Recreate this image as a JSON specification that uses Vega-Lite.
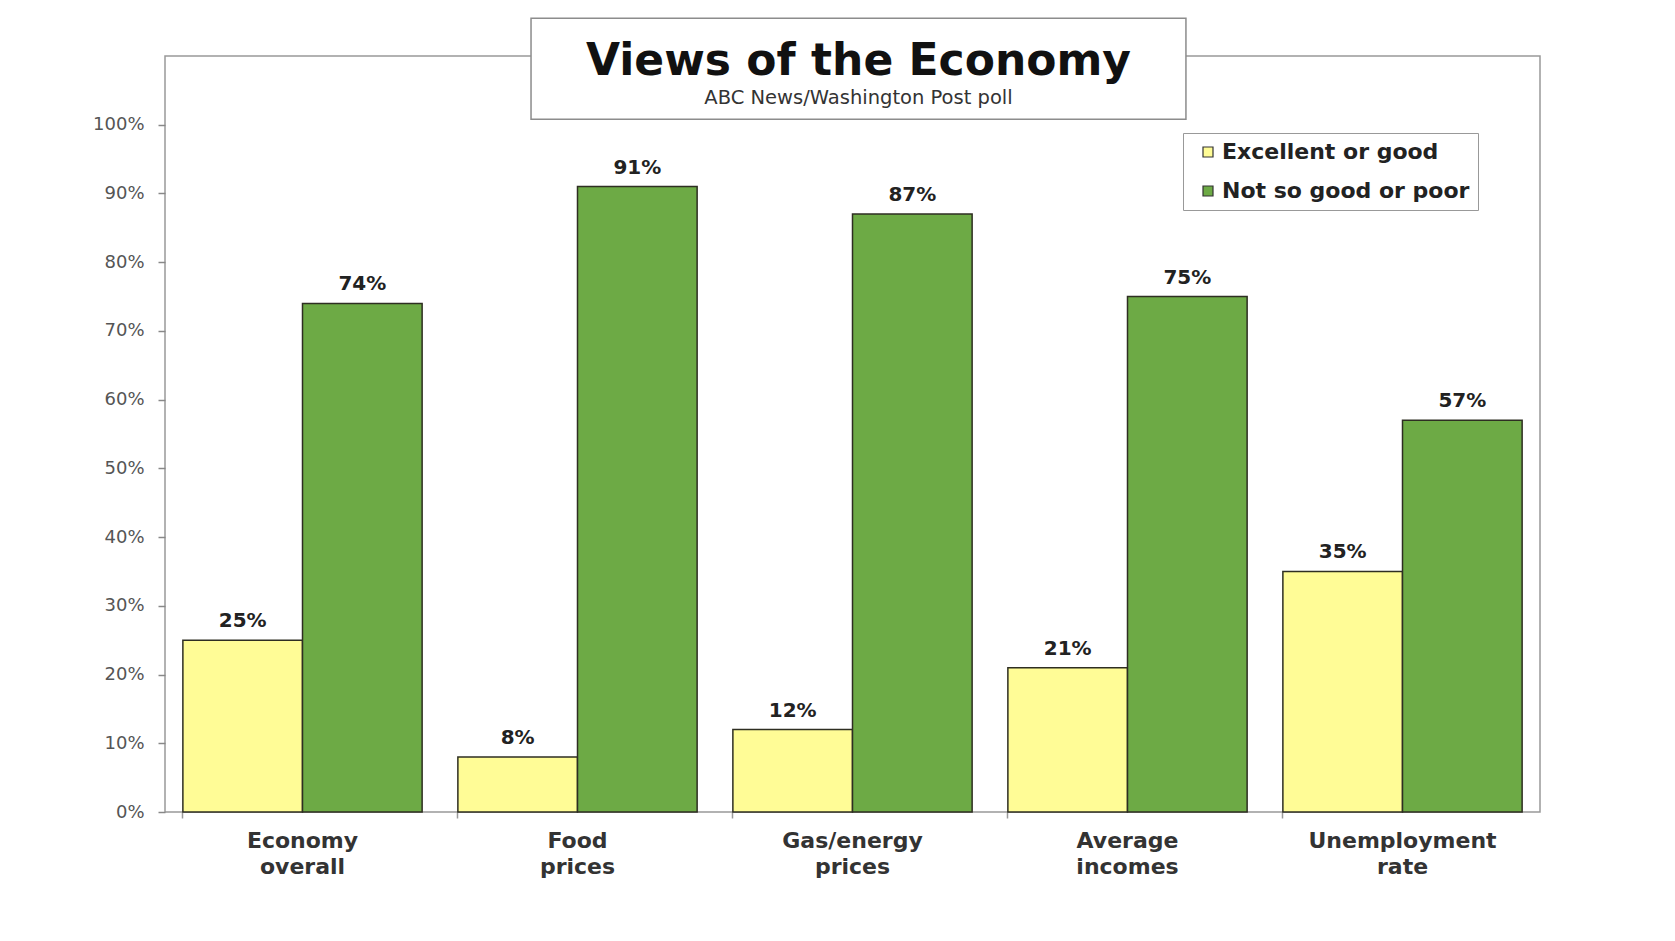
{
  "$schema": "https://vega.github.io/schema/vega-lite/v6.json",
  "width": 1375,
  "height": 756,
  "autosize": {"type": "none"},
  "padding": {"left": 165, "top": 56, "right": 135, "bottom": 129},
  "background": "white",
  "title": {
    "text": "Views of the Economy",
    "subtitle": "ABC News/Washington Post poll",
    "font": "DejaVu Sans",
    "fontSize": 44,
    "fontWeight": "bold",
    "color": "#111111",
    "subtitleFont": "DejaVu Sans",
    "subtitleFontSize": 19.5,
    "subtitleColor": "#333333",
    "subtitlePadding": 5,
    "anchor": "middle",
    "frame": "group",
    "offset": -90.5,
    "dx": 6
  },
  "config": {
    "view": {"stroke": "#999999", "strokeWidth": 1.5},
    "font": "DejaVu Sans"
  },
  "data": {
    "values": [
      {"category": "Economy overall", "series": "Excellent or good", "value": 0.25},
      {"category": "Economy overall", "series": "Not so good or poor", "value": 0.74},
      {"category": "Food prices", "series": "Excellent or good", "value": 0.08},
      {"category": "Food prices", "series": "Not so good or poor", "value": 0.91},
      {"category": "Gas/energy prices", "series": "Excellent or good", "value": 0.12},
      {"category": "Gas/energy prices", "series": "Not so good or poor", "value": 0.87},
      {"category": "Average incomes", "series": "Excellent or good", "value": 0.21},
      {"category": "Average incomes", "series": "Not so good or poor", "value": 0.75},
      {"category": "Unemployment rate", "series": "Excellent or good", "value": 0.35},
      {"category": "Unemployment rate", "series": "Not so good or poor", "value": 0.57}
    ]
  },
  "layer": [
    {
      "mark": {"type": "bar", "stroke": "#2e2e22", "strokeWidth": 1.5},
      "encoding": {
        "x": {
          "field": "category",
          "type": "nominal",
          "sort": ["Economy overall", "Food prices", "Gas/energy prices", "Average incomes", "Unemployment rate"],
          "scale": {"paddingInner": 0.13, "paddingOuter": 0.065},
          "axis": {
            "title": null,
            "labelExpr": "split(datum.label, ' ')",
            "labelFont": "DejaVu Sans",
            "labelFontSize": 22,
            "labelFontWeight": "bold",
            "labelColor": "#333333",
            "labelLineHeight": 26,
            "labelPadding": 12,
            "labelAngle": 0,
            "labelLimit": 400,
            "tickSize": 6,
            "tickColor": "#999999",
            "tickWidth": 1.5,
            "bandPosition": 0,
            "domain": false,
            "grid": false
          }
        },
        "xOffset": {
          "field": "series",
          "type": "nominal",
          "sort": ["Excellent or good", "Not so good or poor"],
          "scale": {"paddingInner": 0, "paddingOuter": 0}
        },
        "y": {
          "field": "value",
          "type": "quantitative",
          "scale": {"domain": [0, 1.1], "nice": false},
          "axis": {
            "title": null,
            "values": [0, 0.1, 0.2, 0.3, 0.4, 0.5, 0.6, 0.7, 0.8, 0.9, 1.0],
            "format": ".0%",
            "grid": false,
            "domain": false,
            "tickSize": 7,
            "tickColor": "#888888",
            "tickWidth": 1.5,
            "labelFont": "DejaVu Sans",
            "labelFontSize": 18,
            "labelColor": "#555555",
            "labelPadding": 14
          }
        },
        "color": {
          "field": "series",
          "type": "nominal",
          "scale": {"domain": ["Excellent or good", "Not so good or poor"], "range": ["#FFFC96", "#6DAA45"]},
          "legend": {
            "title": null,
            "orient": "none",
            "legendX": 1018,
            "legendY": 77,
            "direction": "vertical",
            "symbolType": "square",
            "symbolSize": 100,
            "symbolStrokeColor": "#333333",
            "symbolStrokeWidth": 1.2,
            "labelFont": "DejaVu Sans",
            "labelFontSize": 22,
            "labelFontWeight": "bold",
            "labelColor": "#222222",
            "labelOffset": 3,
            "labelLimit": 400,
            "rowPadding": 17,
            "padding": 8,
            "symbolOffset": 6,
            "strokeColor": "#999999",
            "fillColor": "white"
          }
        }
      }
    },
    {
      "mark": {"type": "text", "font": "DejaVu Sans", "fontSize": 20, "fontWeight": "bold", "baseline": "alphabetic", "dy": -13, "color": "#222222"},
      "encoding": {
        "x": {
          "field": "category",
          "type": "nominal",
          "sort": ["Economy overall", "Food prices", "Gas/energy prices", "Average incomes", "Unemployment rate"],
          "scale": {"paddingInner": 0.13, "paddingOuter": 0.065},
          "axis": null
        },
        "xOffset": {
          "field": "series",
          "type": "nominal",
          "sort": ["Excellent or good", "Not so good or poor"],
          "scale": {"paddingInner": 0, "paddingOuter": 0}
        },
        "y": {"field": "value", "type": "quantitative"},
        "text": {"field": "value", "type": "quantitative", "format": ".0%"}
      }
    },
    {
      "data": {"values": [{"box": "title"}]},
      "mark": {"type": "rect", "fill": "white", "stroke": "#8c8c8c", "strokeWidth": 1.5},
      "encoding": {
        "x": {"datum": 0.2662, "type": "quantitative", "scale": {"domain": [0, 1], "nice": false, "zero": false}, "axis": null},
        "x2": {"datum": 0.7425},
        "y": {"datum": 1.155, "type": "quantitative"},
        "y2": {"datum": 1.008}
      }
    }
  ],
  "resolve": {"scale": {"x": "independent"}, "axis": {"x": "independent"}}
}
